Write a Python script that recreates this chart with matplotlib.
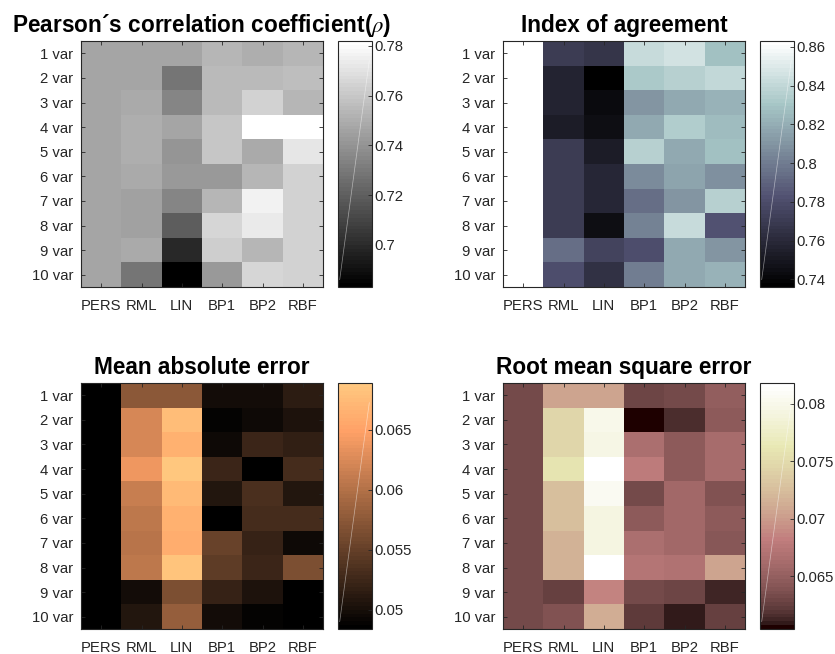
import numpy as np
from matplotlib import pyplot as plt
from matplotlib.ticker import FuncFormatter

plt.rcParams['font.family'] = ['Liberation Sans', 'DejaVu Sans']
plt.rcParams['mathtext.fontset'] = 'stix'

methods = ['PERS', 'RML', 'LIN', 'BP1', 'BP2', 'RBF']
var_labels = [f'{i} var' for i in range(1, 11)]

pearson = [
    [0.747, 0.747, 0.747, 0.753, 0.751, 0.753],
    [0.747, 0.747, 0.728, 0.755, 0.755, 0.757],
    [0.747, 0.749, 0.735, 0.755, 0.764, 0.753],
    [0.747, 0.751, 0.747, 0.759, 0.782, 0.782],
    [0.747, 0.751, 0.741, 0.759, 0.749, 0.772],
    [0.747, 0.749, 0.743, 0.743, 0.753, 0.764],
    [0.747, 0.745, 0.735, 0.753, 0.776, 0.764],
    [0.747, 0.745, 0.720, 0.766, 0.774, 0.764],
    [0.747, 0.749, 0.699, 0.763, 0.753, 0.764],
    [0.747, 0.728, 0.683, 0.743, 0.766, 0.764],
]

agreement = [
    [0.863, 0.770, 0.767, 0.843, 0.846, 0.828],
    [0.863, 0.756, 0.736, 0.833, 0.836, 0.840],
    [0.863, 0.756, 0.742, 0.810, 0.819, 0.823],
    [0.863, 0.752, 0.744, 0.819, 0.834, 0.826],
    [0.863, 0.770, 0.752, 0.837, 0.819, 0.828],
    [0.863, 0.770, 0.758, 0.807, 0.816, 0.809],
    [0.863, 0.770, 0.758, 0.795, 0.810, 0.837],
    [0.863, 0.770, 0.745, 0.803, 0.842, 0.782],
    [0.863, 0.794, 0.774, 0.781, 0.819, 0.810],
    [0.863, 0.781, 0.764, 0.800, 0.819, 0.823],
]

mae = [
    [0.0487, 0.0576, 0.0576, 0.0498, 0.0498, 0.0515],
    [0.0487, 0.0623, 0.0679, 0.0488, 0.0494, 0.0505],
    [0.0487, 0.0623, 0.0664, 0.0494, 0.0525, 0.0519],
    [0.0487, 0.0638, 0.0689, 0.0525, 0.0484, 0.0529],
    [0.0487, 0.0613, 0.0673, 0.0509, 0.0535, 0.0509],
    [0.0487, 0.0607, 0.0664, 0.0484, 0.0531, 0.0531],
    [0.0487, 0.0603, 0.0662, 0.0552, 0.0521, 0.0496],
    [0.0487, 0.0607, 0.0683, 0.0546, 0.0525, 0.0566],
    [0.0487, 0.0498, 0.0566, 0.0521, 0.0505, 0.0484],
    [0.0487, 0.0509, 0.0582, 0.0498, 0.0488, 0.0484],
]

rmse = [
    [0.0634, 0.0705, 0.0707, 0.0630, 0.0634, 0.0649],
    [0.0634, 0.0747, 0.0801, 0.0604, 0.0615, 0.0647],
    [0.0634, 0.0747, 0.0797, 0.0666, 0.0647, 0.0662],
    [0.0634, 0.0760, 0.0818, 0.0679, 0.0645, 0.0662],
    [0.0634, 0.0726, 0.0807, 0.0634, 0.0660, 0.0640],
    [0.0634, 0.0726, 0.0792, 0.0645, 0.0660, 0.0645],
    [0.0634, 0.0717, 0.0792, 0.0666, 0.0660, 0.0643],
    [0.0634, 0.0717, 0.0818, 0.0672, 0.0670, 0.0705],
    [0.0634, 0.0625, 0.0687, 0.0634, 0.0628, 0.0613],
    [0.0634, 0.0640, 0.0713, 0.0623, 0.0610, 0.0625],
]

panels = [
    ('Pearson\u00b4s correlation coefficient($\\rho$)', pearson, 'gray',
     [0.70, 0.72, 0.74, 0.76, 0.78]),
    ('Index of agreement', agreement, 'bone',
     [0.74, 0.76, 0.78, 0.80, 0.82, 0.84, 0.86]),
    ('Mean absolute error', mae, 'copper', [0.05, 0.055, 0.06, 0.065]),
    ('Root mean square error', rmse, 'pink', [0.065, 0.07, 0.075, 0.08]),
]

W, H = 835, 654
fig = plt.figure(figsize=(W / 100, H / 100), dpi=100)

# pixel boxes (left, top) for heatmap and colorbar
ax_left = [81, 503, 81, 503]
ax_top = [41, 41, 383, 383]
cb_left = [338, 760, 338, 760]
ax_w, ax_h, cb_w = 242, 246, 34

edge = '#262626'
fs = 10.7
fmt = FuncFormatter(lambda v, pos: f'{v:g}')

for i, (title, data, cmap_name, cticks) in enumerate(panels):
    vals = np.array(data)
    bottom = 1 - (ax_top[i] + ax_h) / H
    ax = fig.add_axes([ax_left[i] / W, bottom, ax_w / W, ax_h / H])
    cax = fig.add_axes([cb_left[i] / W, bottom, cb_w / W, ax_h / H])

    im = ax.imshow(vals, cmap=plt.get_cmap(cmap_name, 64), aspect='auto',
                   interpolation='nearest')
    ax.set_xticks(range(len(methods)))
    ax.set_xticklabels(methods)
    ax.set_yticks(range(len(var_labels)))
    ax.set_yticklabels(var_labels)
    ax.tick_params(direction='in', length=3, width=0.6, color=edge,
                   labelsize=fs, labelcolor=edge, top=True, right=True,
                   pad=5.5)
    ax.tick_params(axis='x', pad=8.5)
    for s in ax.spines.values():
        s.set_color(edge)
        s.set_linewidth(0.8)
    ax.set_title(title, fontsize=16.3, fontweight='bold', pad=6.5)

    cb = fig.colorbar(im, cax=cax)
    cb.set_ticks(cticks)
    cb.ax.yaxis.set_major_formatter(fmt)
    cb.ax.tick_params(direction='in', length=3, width=0.6, color=edge,
                      labelsize=fs, labelcolor=edge, pad=2)
    cb.outline.set_edgecolor(edge)
    cb.outline.set_linewidth(0.8)
    cax.plot([0.05, 0.92], [0.03, 0.92], transform=cax.transAxes,
             color='white', lw=0.5, alpha=0.5)

fig.savefig('out.png', dpi=100)
